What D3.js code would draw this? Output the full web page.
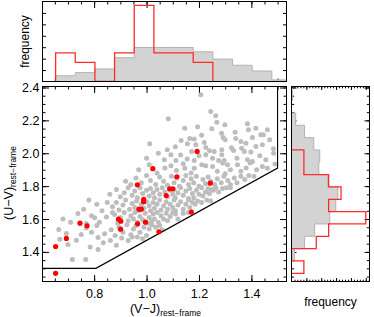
<!DOCTYPE html>
<html>
<head>
<meta charset="utf-8">
<script src="https://cdn.jsdelivr.net/npm/d3@7"></script>
<style>
body { margin: 0; background: #fff; }
svg text { font-family: "Liberation Sans", Arial, Helvetica, sans-serif; }
</style>
</head>
<body>
<svg id="chart" width="374" height="317"></svg>
<script>
/**
 * Data
 */
var vjRange = [0.603, 1.534];          // (V-J) rest-frame axis range
var uvRange = [1.22, 2.406];           // (U-V) rest-frame axis range
var vjMajor = [0.8, 1.0, 1.2, 1.4];
var uvMajor = [1.4, 1.6, 1.8, 2.0, 2.2, 2.4];

// quiescent selection box (U-V > 1.3, V-J < 1.5, U-V > 0.88 (V-J) + 0.59)
var boxUVMin = 1.3, boxVJMax = 1.5, boxSlope = 0.88, boxZero = 0.59;

// histograms, bins of 0.075
var binWidth = 0.075;
var vjBinStart = 0.653;
var uvBinStart = 1.27;
var greyVJFreq = [0.025, 0.039, 0.055, 0.104, 0.149, 0.149, 0.149, 0.130, 0.098, 0.071, 0.046, 0.007];
var redVJCount = [3, 2, 0, 3, 8, 3, 3, 2];
var greyUVFreq = [0, 0.010, 0.044, 0.078, 0.129, 0.149, 0.156, 0.122, 0.092, 0.095, 0.075, 0.044, 0.014, 0, 0.003];
var redUVCount = [1, 0, 2, 3, 6, 3, 4, 3, 1, 1];

// parent sample [V-J, U-V]
var greyPoints = [
    [0.717,1.354],[0.768,1.354],[0.815,1.415],
    [0.669,1.477],[0.700,1.445],[0.732,1.471],[0.785,1.430],[0.815,1.488],[0.835,1.455],[0.862,1.470],
    [0.885,1.440],[0.905,1.485],[0.930,1.470],[0.945,1.490],[0.965,1.490],[0.985,1.480],
    [0.665,1.536],[0.694,1.512],[0.751,1.506],[0.770,1.545],[0.790,1.520],[0.810,1.560],[0.840,1.510],
    [0.865,1.535],[0.880,1.500],[0.895,1.550],[0.910,1.520],[0.925,1.565],[0.940,1.505],[0.950,1.540],
    [0.960,1.560],[0.975,1.520],[0.990,1.550],[1.000,1.500],[1.010,1.540],[1.020,1.565],[1.035,1.550],
    [1.050,1.560],[1.060,1.535],
    [0.681,1.600],[0.710,1.580],[0.738,1.634],[0.770,1.573],[0.790,1.620],[0.802,1.607],[0.820,1.580],
    [0.847,1.613],[0.870,1.640],[0.878,1.628],[0.890,1.575],[0.900,1.610],[0.915,1.640],[0.930,1.590],
    [0.940,1.620],[0.950,1.600],[0.955,1.640],[0.965,1.580],[0.975,1.615],[0.985,1.595],[0.995,1.635],
    [1.005,1.575],[1.010,1.610],[1.020,1.590],[1.025,1.630],[1.030,1.600],[1.040,1.640],[1.045,1.580],
    [1.055,1.620],[1.065,1.600],[1.075,1.635],[1.080,1.590],[1.090,1.615],[1.100,1.640],[1.110,1.630],
    [1.120,1.600],[1.140,1.635],[1.160,1.640],
    [0.760,1.660],[0.780,1.715],[0.810,1.690],[0.830,1.650],[0.850,1.700],[0.870,1.675],[0.885,1.700],
    [0.895,1.655],[0.910,1.685],[0.920,1.715],[0.935,1.660],[0.945,1.695],[0.955,1.670],[0.962,1.710],
    [0.970,1.650],[0.980,1.690],[0.990,1.665],[1.000,1.705],[1.010,1.680],[1.015,1.650],[1.025,1.700],
    [1.030,1.665],[1.040,1.690],[1.050,1.715],[1.055,1.655],[1.065,1.680],[1.075,1.705],[1.080,1.660],
    [1.090,1.690],[1.100,1.670],[1.105,1.715],[1.110,1.650],[1.120,1.685],[1.130,1.705],[1.140,1.660],
    [1.150,1.690],[1.160,1.715],[1.165,1.670],[1.175,1.700],[1.185,1.690],[1.195,1.710],[1.210,1.700],
    [1.230,1.715],[1.245,1.710],
    [0.860,1.750],[0.885,1.780],[0.900,1.735],[0.915,1.760],[0.930,1.790],[0.945,1.745],[0.955,1.770],
    [0.965,1.730],[0.975,1.790],[0.985,1.755],[1.000,1.775],[1.010,1.740],[1.015,1.785],[1.025,1.760],
    [1.030,1.730],[1.040,1.780],[1.050,1.750],[1.060,1.790],[1.070,1.765],[1.080,1.735],[1.090,1.775],
    [1.100,1.750],[1.105,1.780],[1.110,1.730],[1.120,1.760],[1.130,1.790],[1.140,1.745],[1.150,1.770],
    [1.160,1.725],[1.165,1.785],[1.175,1.755],[1.180,1.730],[1.190,1.775],[1.200,1.750],[1.210,1.790],
    [1.215,1.740],[1.225,1.765],[1.235,1.785],[1.240,1.755],[1.250,1.780],[1.255,1.775],[1.265,1.790],
    [1.275,1.765],[1.290,1.785],[1.305,1.790],[1.320,1.790],
    [0.920,1.830],[0.940,1.810],[0.960,1.850],[0.980,1.820],[1.000,1.865],[1.015,1.835],[1.035,1.810],
    [1.050,1.855],[1.065,1.830],[1.080,1.805],[1.095,1.860],[1.105,1.820],[1.115,1.850],[1.125,1.800],
    [1.140,1.835],[1.150,1.865],[1.160,1.810],[1.170,1.845],[1.180,1.820],[1.190,1.860],[1.200,1.800],
    [1.215,1.840],[1.225,1.815],[1.235,1.855],[1.245,1.830],[1.260,1.810],[1.270,1.845],[1.285,1.820],
    [1.295,1.860],[1.310,1.835],[1.320,1.810],[1.335,1.850],[1.345,1.820],[1.360,1.860],[1.375,1.840],
    [1.390,1.865],[1.410,1.860],
    [0.970,1.900],[1.010,1.930],[1.040,1.880],[1.070,1.910],[1.093,1.924],[1.114,1.895],[1.140,1.936],
    [1.146,1.909],[1.170,1.880],[1.182,1.909],[1.211,1.930],[1.226,1.924],[1.252,1.920],[1.270,1.890],
    [1.290,1.940],[1.300,1.875],[1.309,1.930],[1.320,1.900],[1.347,1.930],[1.360,1.890],[1.380,1.910],
    [1.395,1.940],[1.420,1.900],[1.442,1.920],[1.461,1.909],[1.490,1.935],
    [1.000,1.970],[1.045,2.000],[1.068,1.960],[1.093,1.991],[1.112,1.956],[1.130,1.990],[1.155,1.965],
    [1.172,2.011],[1.182,1.956],[1.200,1.985],[1.226,1.991],[1.240,2.015],[1.252,1.970],[1.258,2.011],
    [1.275,1.956],[1.287,1.991],[1.296,1.956],[1.332,2.017],[1.345,1.970],[1.373,2.011],[1.385,1.960],
    [1.398,2.007],[1.404,1.950],[1.432,1.985],[1.455,1.960],[1.485,2.000],
    [1.012,2.058],[1.079,2.021],[1.110,2.040],[1.132,2.078],[1.156,2.058],[1.165,2.090],[1.182,2.086],
    [1.188,2.052],[1.220,2.065],[1.226,2.035],[1.287,2.021],[1.300,2.082],[1.324,2.033],[1.340,2.090],
    [1.360,2.072],[1.363,2.031],[1.379,2.061],[1.417,2.041],[1.442,2.052],[1.470,2.082],[1.484,2.027],
    [1.146,2.152],[1.195,2.161],[1.210,2.110],[1.249,2.149],[1.286,2.122],[1.292,2.096],[1.338,2.128],
    [1.389,2.143],[1.404,2.096],[1.417,2.152],[1.436,2.112],[1.446,2.112],[1.461,2.143],
    [1.083,2.210],[1.264,2.228],[1.268,2.189],[1.299,2.173],[1.385,2.179],[1.245,2.254],[1.207,2.356]
];

// selected sample [V-J, U-V]
var redPoints = [
    [0.653,1.270],[0.653,1.433],[0.694,1.482],[0.746,1.575],[0.773,1.559],[0.893,1.599],
    [0.902,1.587],[0.901,1.538],[0.965,1.808],[0.971,1.660],[0.980,1.660],[0.966,1.571],
    [0.996,1.581],[1.024,1.906],[0.989,1.719],[0.989,1.705],[1.047,1.522],[1.075,1.743],
    [1.088,1.784],[1.100,1.784],[1.116,1.857],[1.171,1.642],[1.193,2.011],[1.243,1.818]
];

/**
 * Layout
 */
var mainBox = {left: 42.5, right: 286.5, top: 86.5, bottom: 281.5};
var topBox  = {left: 42.5, right: 286.5, top: 1.5,  bottom: 81.5};
var sideBox = {left: 291.5, right: 369.5, top: 86.5, bottom: 281.5};
var font = "Liberation Sans, Arial, Helvetica, sans-serif";

window.onload = function(){
    drawChart();
};

// ticks pointing inward, no domain line
function addTicks(g, axisFn, scale, tx, ty, values, len, fmt, pad){
    var a = g.append("g")
        .attr("transform", "translate(" + tx + "," + ty + ")")
        .call(axisFn(scale)
            .tickValues(values)
            .tickSize(-len)
            .tickSizeOuter(0)
            .tickPadding(pad || 0)
            .tickFormat(fmt || function(){ return ""; }));
    a.select(".domain").remove();
    a.attr("font-family", font).attr("font-size", 12.5);
    return a;
}

// step outline of a histogram as [position, value] pairs
function stepPoints(start, width, vals){
    var pts = [[start, 0]];
    vals.forEach(function(v, i){
        pts.push([start + i * width, v]);
        pts.push([start + (i + 1) * width, v]);
    });
    pts.push([start + vals.length * width, 0]);
    return pts;
}

function frame(g, b){
    g.append("rect")
        .attr("x", b.left).attr("y", b.top)
        .attr("width", b.right - b.left).attr("height", b.bottom - b.top)
        .style("fill", "none").style("stroke", "#000").style("stroke-width", 1);
}

function drawChart(){
    var svg = d3.select("#chart");

    var x = d3.scaleLinear().domain(vjRange).range([mainBox.left, mainBox.right]);
    var y = d3.scaleLinear().domain(uvRange).range([mainBox.bottom, mainBox.top]);

    var redVJFreq = redVJCount.map(function(c){ return c / d3.sum(redVJCount); });
    var redUVFreq = redUVCount.map(function(c){ return c / d3.sum(redUVCount); });

    var fTop = d3.scaleLinear().domain([0, d3.max(redVJFreq) * 1.05]).range([topBox.bottom, topBox.top]);
    var fSide = d3.scaleLinear().domain([0, d3.max(redUVFreq) * 1.05]).range([sideBox.left, sideBox.right]);

    var vjMinor = d3.range(13, 31).map(function(i){ return i * 0.05; });
    var uvMinor = d3.range(25, 49).map(function(i){ return i * 0.05; });
    var fmt = d3.format(".1f");

    var defs = svg.append("defs");
    defs.append("clipPath").attr("id", "clipTop").append("rect")
        .attr("x", topBox.left).attr("y", topBox.top)
        .attr("width", topBox.right - topBox.left).attr("height", topBox.bottom - topBox.top);
    defs.append("clipPath").attr("id", "clipSide").append("rect")
        .attr("x", sideBox.left).attr("y", sideBox.top)
        .attr("width", sideBox.right - sideBox.left).attr("height", sideBox.bottom - sideBox.top);

    // ---------- main panel ----------
    var gm = svg.append("g");
    addTicks(gm, d3.axisBottom, x, 0, mainBox.bottom, vjMinor, 3);
    addTicks(gm, d3.axisTop, x, 0, mainBox.top, vjMinor, 3);
    addTicks(gm, d3.axisBottom, x, 0, mainBox.bottom, vjMajor, 6.5, fmt, 8);
    addTicks(gm, d3.axisTop, x, 0, mainBox.top, vjMajor, 6.5);
    addTicks(gm, d3.axisLeft, y, mainBox.left, 0, uvMinor, 3);
    addTicks(gm, d3.axisRight, y, mainBox.right, 0, uvMinor, 3);
    addTicks(gm, d3.axisLeft, y, mainBox.left, 0, uvMajor, 6.5, fmt, 3);
    addTicks(gm, d3.axisRight, y, mainBox.right, 0, uvMajor, 6.5);

    gm.selectAll(".grey")
        .data(greyPoints)
        .enter()
        .append("circle")
        .attr("class", "grey")
        .attr("cx", function(d){ return x(d[0]); })
        .attr("cy", function(d){ return y(d[1]); })
        .attr("r", 2.5)
        .style("fill", "#bdbdbd");

    // selection box
    var corner = (boxUVMin - boxZero) / boxSlope;
    var boxLine = [
        [vjRange[0], boxUVMin],
        [corner, boxUVMin],
        [boxVJMax, boxSlope * boxVJMax + boxZero],
        [boxVJMax, uvRange[1]]
    ];
    gm.append("path")
        .datum(boxLine)
        .attr("d", d3.line()
            .x(function(d){ return x(d[0]); })
            .y(function(d){ return y(d[1]); }))
        .style("fill", "none")
        .style("stroke", "#000")
        .style("stroke-width", 1.1);

    gm.selectAll(".red")
        .data(redPoints)
        .enter()
        .append("circle")
        .attr("class", "red")
        .attr("cx", function(d){ return x(d[0]); })
        .attr("cy", function(d){ return y(d[1]); })
        .attr("r", 2.6)
        .style("fill", "#ff0000");

    frame(gm, mainBox);

    // ---------- top histogram ----------
    var gt = svg.append("g");
    var fTicks = d3.range(1, 7).map(function(i){ return i * 0.05; });
    addTicks(gt, d3.axisBottom, x, 0, topBox.bottom, vjMinor, 3);
    addTicks(gt, d3.axisTop, x, 0, topBox.top, vjMinor, 3);
    addTicks(gt, d3.axisBottom, x, 0, topBox.bottom, vjMajor, 6.5);
    addTicks(gt, d3.axisTop, x, 0, topBox.top, vjMajor, 6.5);
    addTicks(gt, d3.axisLeft, fTop, topBox.left, 0, fTicks, 3.5);
    addTicks(gt, d3.axisRight, fTop, topBox.right, 0, fTicks, 3.5);

    var topLine = d3.line()
        .x(function(d){ return x(d[0]); })
        .y(function(d){ return fTop(d[1]); });

    gt.append("path")
        .datum(stepPoints(vjBinStart, binWidth, greyVJFreq))
        .attr("clip-path", "url(#clipTop)")
        .attr("d", function(d){ return topLine(d) + "Z"; })
        .style("fill", "#d3d3d3")
        .style("stroke", "#b2b2b2")
        .style("stroke-width", 1);

    gt.append("path")
        .datum(stepPoints(vjBinStart, binWidth, redVJFreq))
        .attr("clip-path", "url(#clipTop)")
        .attr("d", topLine)
        .style("fill", "none")
        .style("stroke", "#ff2a2a")
        .style("stroke-width", 1.3);

    frame(gt, topBox);

    gt.append("text")
        .attr("transform", "translate(29,41.5) rotate(-90)")
        .attr("text-anchor", "middle")
        .style("font-size", "12px")
        .text("frequency");

    // ---------- side histogram ----------
    var gs = svg.append("g");
    var sMinor = d3.range(1, 27).map(function(i){ return i * 0.01; });
    var sMajor = d3.range(1, 6).map(function(i){ return i * 0.05; });
    addTicks(gs, d3.axisBottom, fSide, 0, sideBox.bottom, sMinor, 1.8);
    addTicks(gs, d3.axisTop, fSide, 0, sideBox.top, sMinor, 1.8);
    addTicks(gs, d3.axisBottom, fSide, 0, sideBox.bottom, sMajor, 3.5);
    addTicks(gs, d3.axisTop, fSide, 0, sideBox.top, sMajor, 3.5);
    addTicks(gs, d3.axisLeft, y, sideBox.left, 0, uvMinor, 2.7);
    addTicks(gs, d3.axisRight, y, sideBox.right, 0, uvMinor, 2.7);
    addTicks(gs, d3.axisLeft, y, sideBox.left, 0, uvMajor, 5);
    addTicks(gs, d3.axisRight, y, sideBox.right, 0, uvMajor, 5);

    var sideLine = d3.line()
        .x(function(d){ return fSide(d[1]); })
        .y(function(d){ return y(d[0]); });

    gs.append("path")
        .datum(stepPoints(uvBinStart, binWidth, greyUVFreq))
        .attr("clip-path", "url(#clipSide)")
        .attr("d", function(d){ return sideLine(d) + "Z"; })
        .style("fill", "#d3d3d3")
        .style("stroke", "#b2b2b2")
        .style("stroke-width", 1);

    gs.append("path")
        .datum(stepPoints(uvBinStart, binWidth, redUVFreq))
        .attr("clip-path", "url(#clipSide)")
        .attr("d", sideLine)
        .style("fill", "none")
        .style("stroke", "#ff2a2a")
        .style("stroke-width", 1.3);

    frame(gs, sideBox);

    gs.append("text")
        .attr("x", 330.5)
        .attr("y", 306)
        .attr("text-anchor", "middle")
        .style("font-size", "12px")
        .text("frequency");

    // ---------- axis titles ----------
    var xt = svg.append("text")
        .attr("x", 165.5)
        .attr("y", 312.5)
        .attr("text-anchor", "middle")
        .style("font-size", "12.5px");
    xt.append("tspan").text("(V\u2212J)");
    xt.append("tspan").attr("dy", 3).style("font-size", "8.5px").text("rest\u2212frame");

    var yt = svg.append("text")
        .attr("transform", "translate(13,183) rotate(-90)")
        .attr("text-anchor", "middle")
        .style("font-size", "12.5px");
    yt.append("tspan").text("(U\u2212V)");
    yt.append("tspan").attr("dy", 3).style("font-size", "8.5px").text("rest\u2212frame");
}
</script>
</body>
</html>
